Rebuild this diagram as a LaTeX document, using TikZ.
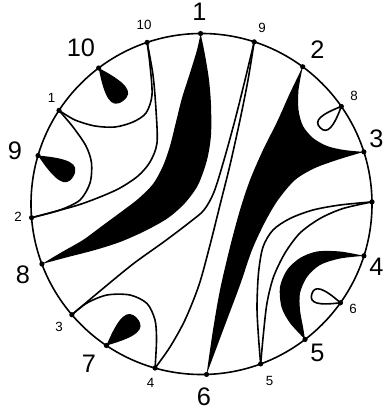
\documentclass[tikz,border=0pt]{standalone}
\usepackage{fontspec}
\setmainfont{Liberation Sans}
\usetikzlibrary{calc}
\begin{document}
\begin{tikzpicture}[x=0.75pt,y=-0.75pt,
  line width=1.2pt, line join=round, line cap=round,
  biglab/.style={font=\fontsize{19}{19}\selectfont, inner sep=0pt},
  smalllab/.style={font=\fontsize{10}{10}\selectfont, inner sep=0pt},
  curve/.style={draw=black, line width=1.2pt},
  region/.style={fill=black},
  filltear/.pic={\fill (0,0) .. controls (27,-13) and (41,-15) .. (41,0) .. controls (41,15) and (27,13) .. (0,0);},
  looptear/.pic={\draw (0,0) .. controls (20,-9) and (30,-10) .. (30,0) .. controls (30,10) and (20,9) .. (0,0);},
]
\useasboundingbox (0,0) rectangle (384,413);
\coordinate (O) at (201.5,204);
% points on the circle (pixel angles, clockwise)
\coordinate (P1) at ($(O)+(-90.3:170.5)$);
\coordinate (S9) at ($(O)+(-72:170.5)$);
\coordinate (P2) at ($(O)+(-53.6:170.5)$);
\coordinate (S8) at ($(O)+(-34.9:170.5)$);
\coordinate (P3) at ($(O)+(-17.8:170.5)$);
\coordinate (S7) at ($(O)+(-0.7:170.5)$);
\coordinate (P4) at ($(O)+(17.7:170.5)$);
\coordinate (S6) at ($(O)+(35.4:170.5)$);
\coordinate (P5) at ($(O)+(52.6:170.5)$);
\coordinate (S5) at ($(O)+(69.7:170.5)$);
\coordinate (P6) at ($(O)+(88.3:170.5)$);
\coordinate (S4) at ($(O)+(105.8:170.5)$);
\coordinate (P7) at ($(O)+(123.9:170.5)$);
\coordinate (S3) at ($(O)+(139.5:170.5)$);
\coordinate (P8) at ($(O)+(159.4:170.5)$);
\coordinate (S2) at ($(O)+(175.4:170.5)$);
\coordinate (P9) at ($(O)+(-163.5:170.5)$);
\coordinate (S1) at ($(O)+(-146.7:170.5)$);
\coordinate (P10) at ($(O)+(-127.1:170.5)$);
\coordinate (S10) at ($(O)+(-108.6:170.5)$);

% black regions
\fill[region] plot[smooth] coordinates {(P1) (205,55) (209,80) (211,105) (211,135) (207,160) (198,185) (185,203) (168,218) (145,231) (120,242) (95,250) (68,257) (P8)}
  -- plot[smooth] coordinates {(P8) (62,252) (83,240) (102,226) (121,212) (138,199) (153,184) (163,166) (170,146) (176,122) (182,98) (190,73) (197,50) (P1)} -- cycle;
\fill[region] plot[smooth] coordinates {(P2) (298.5,90) (298.5,110) (303,126) (313,138) (327,146) (344,150) (P3)}
  -- plot[smooth] coordinates {(P3) (340,159) (315,168) (295,180) (278,200) (265,222) (252,250) (240,285) (225,325) (P6)}
  -- plot[smooth] coordinates {(P6) (213,330) (220,290) (230,247) (240,210) (250,180) (263,150) (277,122) (290,93) (P2)} -- cycle;
\fill[region] plot[smooth] coordinates {(P4) (340,251.5) (317,251.5) (300,258) (287,270) (280,287) (281.5,307) (290,323) (P5)}
  -- plot[smooth] coordinates {(P5) (303,327) (300,310) (300,293) (307,277) (320,265) (340,258.5) (P4)} -- cycle;

% curves
\draw[curve] plot[smooth] coordinates {(S10) (150,65) (152,95) (146,113) (133,122) (115,127) (95,126) (75,120) (S1)};
\draw[curve] plot[smooth] coordinates {(S10) (153,75) (156,110) (157,143) (150,162) (138,176) (120,188) (100,197) (75,206) (S2)};
\draw[curve] plot[smooth] coordinates {(S1) (73,127) (86,146) (91.5,163) (90,183) (80,200) (60,210) (S2)};
\draw[curve] plot[smooth] coordinates {(S9) (245,80) (235,120) (224,160) (214,192) (204,210) (190,222) (165,241) (133,264) (100,291) (S3)};
\draw[curve] plot[smooth] coordinates {(S9) (248,80) (240,120) (230,165) (220,205) (210,245) (199,285) (185,320) (170,347) (S4)};
\draw[curve] plot[smooth] coordinates {(S3) (87,303) (107,295) (130,295) (147,303.5) (155,320) (156.5,340) (S4)};
\draw[curve] plot[smooth] coordinates {(S7) (340,205) (313,210) (290,218.5) (273,230) (263,247) (258.5,273) (257,307) (258.5,337) (S5)};
\draw[curve] plot[smooth] coordinates {(S7) (343,208.5) (320,218.5) (300,233) (285,253) (273.5,277) (267,303) (263.5,333) (S5)};

% teardrops and loops
\pic[rotate=-53.4] at (P10) {filltear};
\pic[rotate=-30.5] at (P9) {filltear};
\pic[rotate=41.5] at (P7) {filltear};
\pic[rotate=-197] at (S6) {looptear};
\pic[rotate=-134.6] at (S8) {looptear};

% outer circle
\draw[curve] (O) circle[radius=170.5];

% dots
\foreach \p in {P1,P2,P3,P4,P5,P6,P7,P8,P9,P10,S1,S2,S3,S4,S5,S6,S7,S8,S9,S10}
  \fill (\p) circle[radius=2.6];

% labels
\node[biglab] (L1) at (199.5,11.5) {1};
\node[biglab] (L2) at (317.5,50) {2};
\node[biglab] (L3) at (376.5,139) {3};
\node[biglab] (L4) at (376.5,267) {4};
\node[biglab] (L5) at (317.5,353) {5};
\node[biglab] (L6) at (204,397) {6};
\node[biglab] (L7) at (89,363.5) {7};
\node[biglab] (L8) at (23,274.5) {8};
\node[biglab] (L9) at (15,151) {9};
\node[biglab] (L10) at (81,47.5) {10};
\node[smalllab] (l10) at (144,25) {10};
\node[smalllab] (l9) at (262,27.5) {9};
\node[smalllab] (l8) at (354,96.3) {8};
\node[smalllab] (l6) at (353,309) {6};
\node[smalllab] (l5) at (269.5,381) {5};
\node[smalllab] (l4) at (150.5,382.7) {4};
\node[smalllab] (l3) at (59,326.5) {3};
\node[smalllab] (l2) at (18,217) {2};
\node[smalllab] (l1) at (51.5,97.5) {1};
\end{tikzpicture}
\end{document}
